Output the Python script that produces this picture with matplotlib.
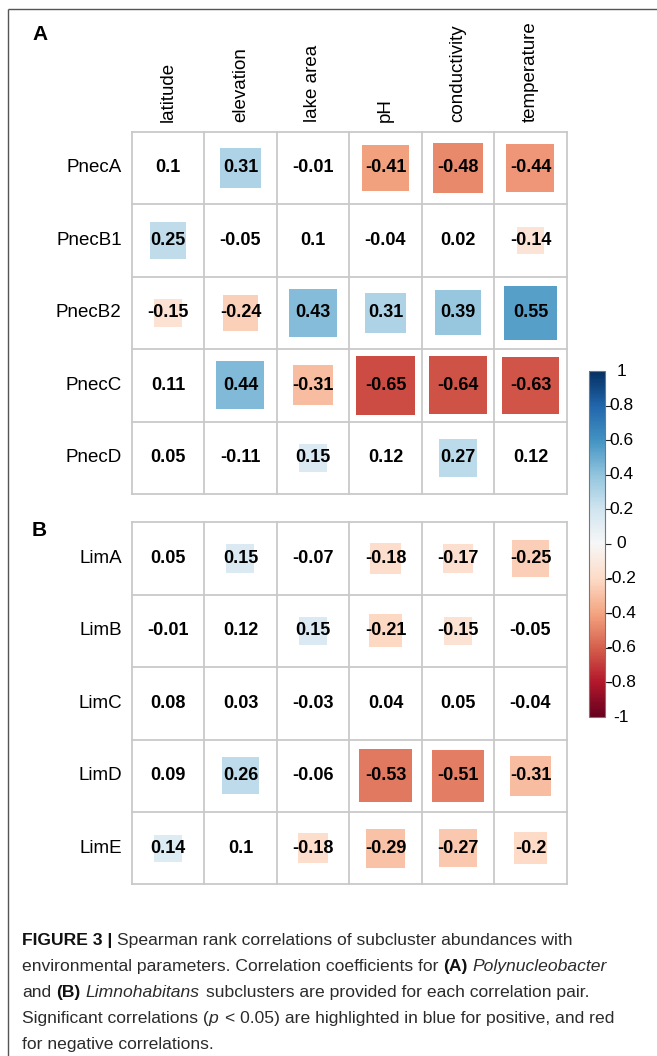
import numpy as np
import matplotlib
matplotlib.use("Agg")
import matplotlib.pyplot as plt
from matplotlib.patches import Rectangle
from matplotlib import colors, transforms
from matplotlib.colorbar import ColorbarBase
from matplotlib.font_manager import FontProperties

W, H, DPI = 657, 1056, 100

# ---- data -------------------------------------------------------------
params = ["latitude", "elevation", "lake area", "pH", "conductivity", "temperature"]

pnec_names = ["PnecA", "PnecB1", "PnecB2", "PnecC", "PnecD"]
pnec_r = [
    [0.10, 0.31, -0.01, -0.41, -0.48, -0.44],
    [0.25, -0.05, 0.10, -0.04, 0.02, -0.14],
    [-0.15, -0.24, 0.43, 0.31, 0.39, 0.55],
    [0.11, 0.44, -0.31, -0.65, -0.64, -0.63],
    [0.05, -0.11, 0.15, 0.12, 0.27, 0.12],
]
pnec_sig = [
    [0, 1, 0, 1, 1, 1],
    [1, 0, 0, 0, 0, 1],
    [1, 1, 1, 1, 1, 1],
    [0, 1, 1, 1, 1, 1],
    [0, 0, 1, 0, 1, 0],
]

lim_names = ["LimA", "LimB", "LimC", "LimD", "LimE"]
lim_r = [
    [0.05, 0.15, -0.07, -0.18, -0.17, -0.25],
    [-0.01, 0.12, 0.15, -0.21, -0.15, -0.05],
    [0.08, 0.03, -0.03, 0.04, 0.05, -0.04],
    [0.09, 0.26, -0.06, -0.53, -0.51, -0.31],
    [0.14, 0.10, -0.18, -0.29, -0.27, -0.20],
]
lim_sig = [
    [0, 1, 0, 1, 1, 1],
    [0, 0, 1, 1, 1, 0],
    [0, 0, 0, 0, 0, 0],
    [0, 1, 0, 1, 1, 1],
    [1, 0, 1, 1, 1, 1],
]

cbar_ticks = [1, 0.8, 0.6, 0.4, 0.2, 0, -0.2, -0.4, -0.6, -0.8, -1]

# ---- style ------------------------------------------------------------
SANS = ["Liberation Sans", "DejaVu Sans"]
plt.rcParams["font.family"] = SANS
cmap = plt.get_cmap("RdBu")
norm = colors.Normalize(-1, 1)
GRID = "#c9c9c9"

fig = plt.figure(figsize=(W / DPI, H / DPI), dpi=DPI)

# overlay in pixel coordinates for the frame, panel letters and caption
ov = fig.add_axes([0, 0, 1, 1], zorder=-1)
ov.set_xlim(0, W)
ov.set_ylim(H, 0)
ov.axis("off")
ov.plot([7.5, 7.5], [9, H], color="#555555", lw=1.0, solid_capstyle="butt")
ov.plot([7.5, W], [9, 9], color="#555555", lw=1.0, solid_capstyle="butt")


def px_axes(x0, y0, x1, y1, **kw):
    return fig.add_axes([x0 / W, 1 - y1 / H, (x1 - x0) / W, (y1 - y0) / H], **kw)


def draw_panel(ax, names, r, sig, show_cols):
    r = np.asarray(r, float)
    sig = np.asarray(sig, bool)
    nrow, ncol = r.shape
    ax.set_xlim(0, ncol)
    ax.set_ylim(nrow, 0)
    ax.axis("off")
    for i in range(nrow):
        for j in range(ncol):
            v = r[i, j]
            if sig[i, j]:
                s = np.sqrt(abs(v))
                ax.add_patch(Rectangle((j + 0.5 - s / 2, i + 0.5 - s / 2), s, s,
                                       facecolor=cmap(norm(v)), edgecolor="none"))
            ax.text(j + 0.5, i + 0.5, f"{v:g}", ha="center", va="center",
                    fontsize=13, fontweight="bold", color="black")
    for k in range(ncol + 1):
        ax.plot([k, k], [0, nrow], color=GRID, lw=1.3, clip_on=False)
    for k in range(nrow + 1):
        ax.plot([0, ncol], [k, k], color=GRID, lw=1.3, clip_on=False)
    left = transforms.offset_copy(ax.transData, fig, x=-10, y=0, units="dots")
    for i, nm in enumerate(names):
        ax.text(0, i + 0.5, nm, transform=left, ha="right", va="center",
                fontsize=13.5, color="black")
    if show_cols:
        up = transforms.offset_copy(ax.transData, fig, x=0, y=10, units="dots")
        for j, p in enumerate(params):
            ax.text(j + 0.5, 0, p, transform=up, rotation=90, ha="center",
                    va="bottom", fontsize=13.5, color="black")


axA = px_axes(131.7, 131.7, 566.7, 494.0)
draw_panel(axA, pnec_names, pnec_r, pnec_sig, True)
axB = px_axes(131.7, 522.3, 566.7, 884.3)
draw_panel(axB, lim_names, lim_r, lim_sig, False)

ov.text(32, 35, "A", fontsize=15, fontweight="bold", ha="left", va="center")
ov.text(32, 530, "B", fontsize=15, fontweight="bold", ha="left", va="center")

# colour legend: short ticks on inner values, labels centred beside the bar
cax = px_axes(589, 371, 605, 717)
cb = ColorbarBase(cax, cmap=cmap, norm=norm)
inner = [t for t in cbar_ticks if abs(t) < 1]
cb.set_ticks(inner)
cb.ax.set_yticklabels([])
cb.ax.tick_params(length=4, width=0.8, colors="#222222")
cb.outline.set_edgecolor("#777777")
cb.outline.set_linewidth(0.8)
lab_tf = transforms.offset_copy(cax.get_yaxis_transform(), fig, x=16, y=0, units="dots")
for t in cbar_ticks:
    cax.text(1.0, t, f"{t:g}", transform=lab_tf, ha="center", va="center",
             fontsize=12.5, color="black", clip_on=False)

# caption with mixed font styles
fig.canvas.draw()
renderer = fig.canvas.get_renderer()
CAP_SIZE = 12.6
CAP_COLOR = "#2b2b2b"


def fprops(kind):
    return FontProperties(family=SANS, size=CAP_SIZE,
                          style="italic" if kind == "i" else "normal",
                          weight="bold" if kind == "b" else "normal")


def ink_width(s, fp):
    t = ov.text(0, 0, s, fontproperties=fp)
    w = t.get_window_extent(renderer).width
    t.remove()
    return w


def draw_runs(x, y, runs):
    for text, kind in runs:
        fp = fprops(kind)
        sw = ink_width("a a", fp) - ink_width("aa", fp)
        core = text.strip(" ")
        if not core:
            x += len(text) * sw
            continue
        lead = len(text) - len(text.lstrip(" "))
        trail = len(text) - len(text.rstrip(" "))
        x += lead * sw
        color = "#111111" if kind == "b" else CAP_COLOR
        t = ov.text(x, y, core, fontproperties=fp, color=color, ha="left", va="center")
        x += t.get_window_extent(renderer).width + trail * sw
        if kind == "i":
            x += 2  # room for the slanted glyphs' overhang


caption = [
    [("FIGURE 3 |", "b"), (" Spearman rank correlations of subcluster abundances with", "r")],
    [("environmental parameters. Correlation coefficients for ", "r"), ("(A)", "b"),
     (" ", "r"), ("Polynucleobacter", "i")],
    [("and ", "r"), ("(B)", "b"), (" ", "r"), ("Limnohabitans", "i"),
     (" subclusters are provided for each correlation pair.", "r")],
    [("Significant correlations (", "r"), ("p", "i"),
     (" < 0.05) are highlighted in blue for positive, and red", "r")],
    [("for negative correlations.", "r")],
]
for k, line in enumerate(caption):
    draw_runs(22, 941 + 25.8 * k, line)

fig.savefig("out.png", dpi=DPI)
